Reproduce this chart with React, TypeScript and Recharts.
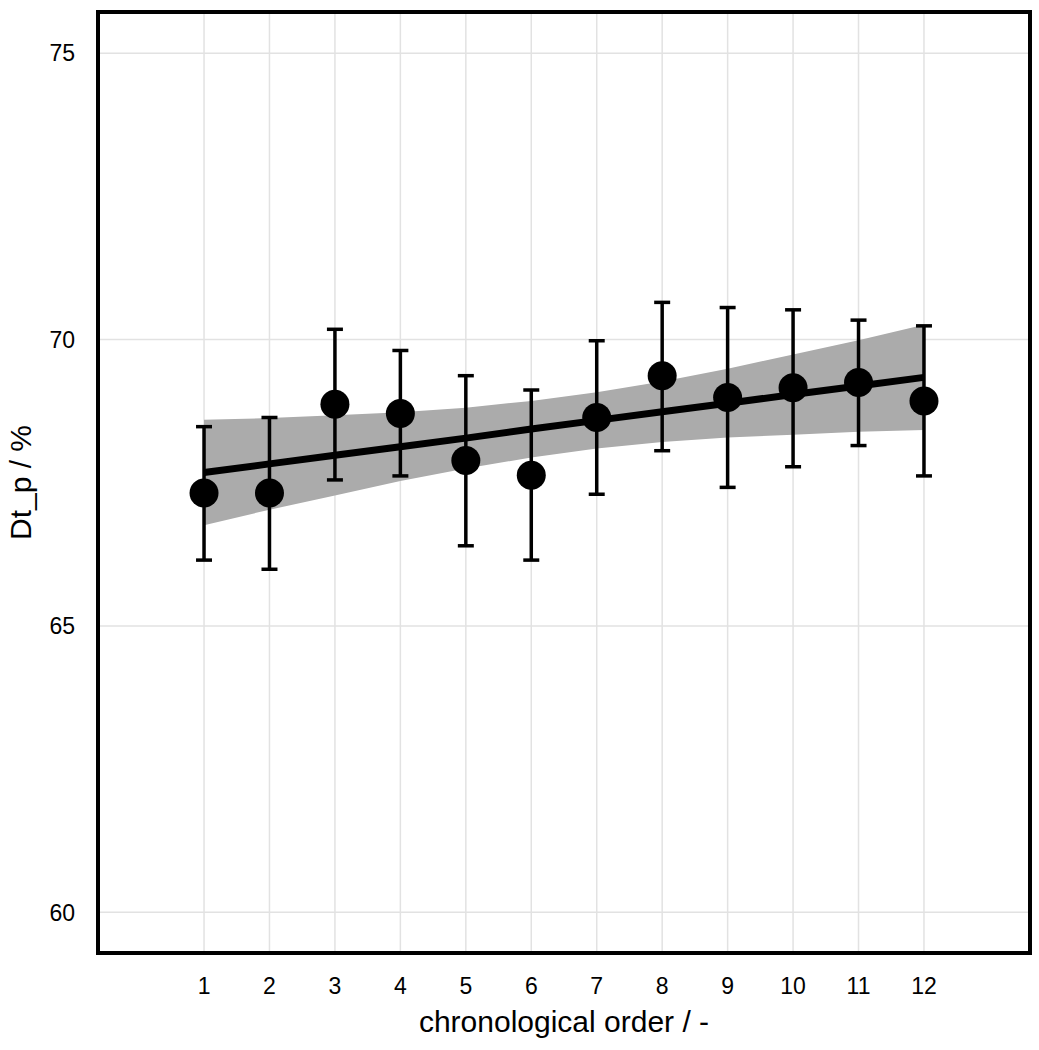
import React from 'react';
import {
  ComposedChart, Area, Line, Scatter, ErrorBar, XAxis, YAxis, CartesianGrid, ReferenceArea,
} from 'recharts';

const orders = [1, 2, 3, 4, 5, 6, 7, 8, 9, 10, 11, 12];
const means = [67.32, 67.32, 68.87, 68.71, 67.89, 67.63, 68.64, 69.37, 68.99, 69.16, 69.25, 68.93];
const errLow = [66.15, 65.99, 67.55, 67.62, 66.40, 66.15, 67.30, 68.06, 67.42, 67.78, 68.15, 67.62];
const errHigh = [68.48, 68.64, 70.18, 69.81, 69.37, 69.12, 69.98, 70.65, 70.56, 70.52, 70.34, 70.24];
const fitValues = [67.68, 67.83, 67.98, 68.13, 68.28, 68.44, 68.59, 68.74, 68.89, 69.04, 69.19, 69.34];
const bandLow = [66.76, 67.03, 67.28, 67.53, 67.75, 67.94, 68.10, 68.21, 68.29, 68.34, 68.39, 68.42];
const bandHigh = [68.60, 68.63, 68.68, 68.73, 68.81, 68.93, 69.08, 69.27, 69.49, 69.74, 69.99, 70.26];
const xTicks = [1, 2, 3, 4, 5, 6, 7, 8, 9, 10, 11, 12];
const yTicks = [60, 65, 70, 75];

const X_DOMAIN: [number, number] = [-0.62, 13.62];
const Y_DOMAIN: [number, number] = [59.29, 75.72];

const data = orders.map((x, i) => ({
  x,
  mean: means[i],
  err: [means[i] - errLow[i], errHigh[i] - means[i]],
  fit: fitValues[i],
  band: [bandLow[i], bandHigh[i]],
}));

const Dot = (props: any) => {
  const { cx, cy } = props;
  if (cx == null || cy == null) return null;
  return <circle cx={cx} cy={cy} r={14.5} fill="#000" />;
};

export default function App() {
  const font = '"Liberation Sans", Arial, sans-serif';
  return (
    <div style={{ position: 'absolute', left: 0, top: 0, background: '#fff' }}>
      <ComposedChart
        width={1039}
        height={1050}
        data={data}
        margin={{ top: 12, right: 9, bottom: 0, left: 0 }}
        style={{ fontFamily: font }}
      >
        <CartesianGrid stroke="#e2e2e2" strokeWidth={1.5} />
        <XAxis
          dataKey="x"
          type="number"
          domain={X_DOMAIN}
          ticks={xTicks}
          allowDataOverflow
          height={97}
          axisLine={false}
          tickLine={false}
          tickSize={0}
          tickMargin={25}
          tick={{ fill: '#000', fontSize: 23, fontFamily: font }}
          label={{
            value: 'chronological order / -',
            position: 'insideBottom',
            offset: 18,
            style: { fill: '#000', fontSize: 30, fontFamily: font },
          }}
        />
        <YAxis
          type="number"
          domain={Y_DOMAIN}
          ticks={yTicks}
          allowDataOverflow
          width={98}
          axisLine={false}
          tickLine={false}
          tickSize={0}
          tickMargin={23}
          tick={{ fill: '#000', fontSize: 23, fontFamily: font }}
          label={{
            value: 'Dt_p / %',
            angle: -90,
            position: 'insideLeft',
            offset: 20,
            style: { fill: '#000', fontSize: 30, fontFamily: font, textAnchor: 'middle' },
          }}
        />
        <Area
          type="linear"
          dataKey="band"
          fill="#ababab"
          fillOpacity={1}
          stroke="none"
          isAnimationActive={false}
        />
        <Line
          type="linear"
          dataKey="fit"
          stroke="#000"
          strokeWidth={7}
          dot={false}
          activeDot={false}
          isAnimationActive={false}
        />
        <Scatter data={data} dataKey="mean" shape={<Dot />} isAnimationActive={false}>
          <ErrorBar dataKey="err" direction="y" width={8} stroke="#000" strokeWidth={3.5} />
        </Scatter>
        <ReferenceArea
          x1={X_DOMAIN[0]}
          x2={X_DOMAIN[1]}
          y1={Y_DOMAIN[0]}
          y2={Y_DOMAIN[1]}
          fill="none"
          stroke="#000"
          strokeWidth={4}
          ifOverflow="visible"
        />
      </ComposedChart>
    </div>
  );
}
